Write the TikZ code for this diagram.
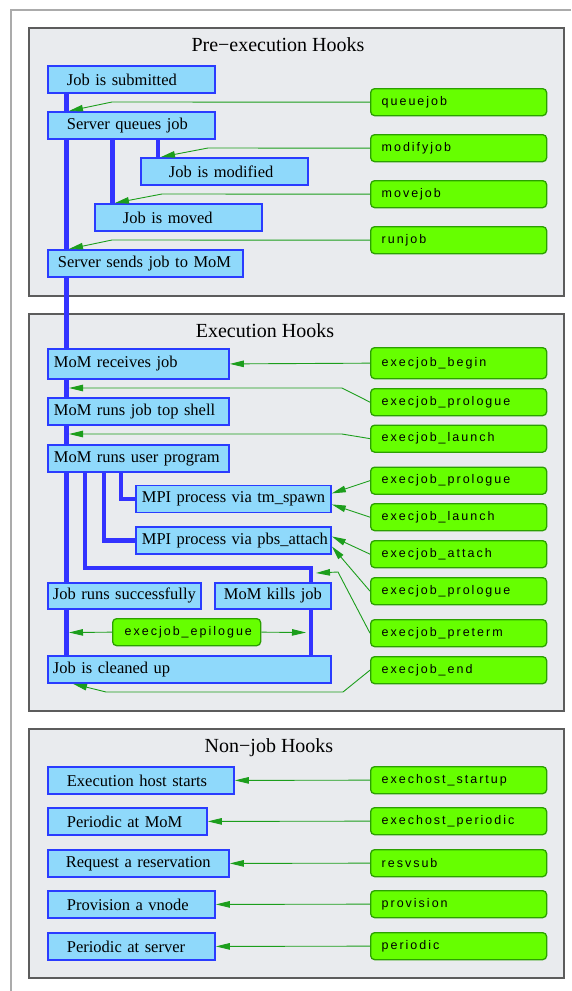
\documentclass[tikz,border=0pt]{standalone}
\usepackage{fontspec}
\setmainfont{Liberation Serif}
\newfontfamily\hookfont[LetterSpace=16]{Liberation Sans}
\usetikzlibrary{arrows.meta,calc}

\definecolor{panelfill}{HTML}{E9EBEE}
\definecolor{panelline}{HTML}{5C5C5C}
\definecolor{framegray}{HTML}{ABABAB}
\definecolor{jobfill}{HTML}{8FD9FB}
\definecolor{jobline}{HTML}{2A3CFF}
\definecolor{flowblue}{HTML}{3333FF}
\definecolor{hookfill}{HTML}{66FF00}
\definecolor{hookline}{HTML}{2BA000}
\definecolor{arrowgreen}{HTML}{1C9E1C}

\tikzset{
  panel/.style={draw=panelline, fill=panelfill, line width=1.2pt},
  paneltitle/.style={anchor=base, inner sep=0pt, font=\fontsize{20}{24}\selectfont},
  % one-line label, left aligned at a fixed inset inside a box of fixed width
  oneline/.style={align=left, execute at begin node={\hbox\bgroup}, execute at end node={\egroup}},
  jobbox/.style 2 args={draw=jobline, fill=jobfill, line width=1.8pt, anchor=north west,
    minimum height=27pt, inner ysep=0pt, inner xsep=#2, text width=#1, oneline,
    font=\fontsize{16.5}{18}\selectfont},
  hookbox/.style={draw=hookline, fill=hookfill, line width=1.3pt, rounded corners=4pt,
    anchor=north west, minimum height=27pt, inner ysep=0pt, inner xsep=11pt,
    text width=154pt, oneline, font=\hookfont\fontsize{12.5}{14}\selectfont},
  flow/.style={draw=flowblue, line width=4.5pt},
  hookarrow/.style={draw=arrowgreen, line width=0.9pt, -{Triangle[length=14pt,width=6.5pt]}},
}

\begin{document}
\begin{tikzpicture}[x=1pt, y=-1pt]
\useasboundingbox (0,0) rectangle (571,991);
\fill[white] (0,0) rectangle (571,991);

% outer frame
\draw[framegray, line width=1.5pt] (11,991) -- (11,10) -- (571,10);

% section panels
\draw[panel] (29,28) rectangle (564,296);
\draw[panel] (29,314) rectangle (564,711);
\draw[panel] (29,729) rectangle (564,978);

\node[paneltitle] (pretitle) at (278,51.5) {Pre−execution Hooks};
\node[paneltitle] (exectitle) at (265,337.5) {Execution Hooks};
\node[paneltitle] (nonjobtitle) at (269,752.5) {Non−job Hooks};

% pre-execution stages
\node[jobbox={129pt}{19pt}] (submitted) at (47,65) {Job is submitted};
\node[jobbox={129pt}{19pt}] (queued) at (47,111) {Server queues job};
\node[jobbox={111pt}{28pt}] (modified) at (140,157) {Job is modified};
\node[jobbox={111pt}{28pt}] (moved) at (94,203) {Job is moved};
\node[jobbox={175pt}{10pt}] (sent) at (47,249) {Server sends job to MoM};

\node[hookbox] (queuejob) at (370,88) {queuejob};
\node[hookbox] (modifyjob) at (370,134) {modifyjob};
\node[hookbox] (movejob) at (370,180) {movejob};
\node[hookbox] (runjob) at (370,226) {runjob};

% execution stages
\node[jobbox={169pt}{6pt}, minimum height=30pt] (received) at (47,348) {MoM receives job};
\node[jobbox={169pt}{6pt}] (topshell) at (47,397) {MoM runs job top shell};
\node[jobbox={169pt}{6pt}] (userprog) at (47,444) {MoM runs user program};
\node[jobbox={183pt}{6pt}] (spawn) at (135,484.5) {MPI process via tm\_spawn};
\node[jobbox={183pt}{6pt}] (attach) at (135,526) {MPI process via pbs\_attach};
\node[jobbox={143pt}{5pt}, minimum height=26pt] (success) at (47,582) {Job runs successfully};
\node[jobbox={98pt}{9pt}, minimum height=26pt] (killed) at (214,582) {MoM kills job};
\node[jobbox={273pt}{5pt}] (cleaned) at (47,655) {Job is cleaned up};

\node[hookbox, minimum height=31pt] (ebegin) at (370,347) {execjob\_begin};
\node[hookbox] (eprolog1) at (370,388) {execjob\_prologue};
\node[hookbox] (elaunch1) at (370,424.5) {execjob\_launch};
\node[hookbox] (eprolog2) at (370,466.5) {execjob\_prologue};
\node[hookbox] (elaunch2) at (370,503) {execjob\_launch};
\node[hookbox] (eattach) at (370,540) {execjob\_attach};
\node[hookbox] (eprolog3) at (370,577) {execjob\_prologue};
\node[hookbox] (epreterm) at (370,619) {execjob\_preterm};
\node[hookbox] (eend) at (370,656) {execjob\_end};
\node[hookbox, inner xsep=12pt, text width=124pt] (epilogue) at (112,618) {execjob\_epilogue};

% non-job events
\node[jobbox={148pt}{19pt}] (hoststart) at (47,766) {Execution host starts};
\node[jobbox={121pt}{19pt}] (momperiodic) at (47,807) {Periodic at MoM};
\node[jobbox={145pt}{18pt}] (resvreq) at (47,849) {Request a reservation};
\node[jobbox={129pt}{19pt}] (provnode) at (47,890) {Provision a vnode};
\node[jobbox={129pt}{19pt}] (srvperiodic) at (47,932) {Periodic at server};

\node[hookbox] (hoststartup) at (370,766) {exechost\_startup};
\node[hookbox] (hostperiodic) at (370,807) {exechost\_periodic};
\node[hookbox] (resvsub) at (370,849) {resvsub};
\node[hookbox] (provision) at (370,890) {provision};
\node[hookbox] (periodic) at (370,932) {periodic};

% job flow columns
\coordinate (spine) at (66.5,0);
\coordinate (movecol) at (112.5,0);
\coordinate (modcol) at (158,0);
\coordinate (killcol) at (85,0);
\coordinate (attcol) at (104,0);
\coordinate (spcol) at (121,0);
\coordinate (killturn) at (311,568);

\draw[flow] (submitted.south -| spine) -- (queued.north -| spine);
\draw[flow] (queued.south -| spine) -- (sent.north -| spine);
\draw[flow] (queued.south -| movecol) -- (moved.north -| movecol);
\draw[flow] (queued.south -| modcol) -- (modified.north -| modcol);
\draw[flow] (sent.south -| spine) -- (received.north -| spine);
\draw[flow] (received.south -| spine) -- (topshell.north -| spine);
\draw[flow] (topshell.south -| spine) -- (userprog.north -| spine);
\draw[flow] (userprog.south -| spine) -- (success.north -| spine);
\draw[flow] (success.south -| spine) -- (cleaned.north -| spine);
\draw[flow] (userprog.south -| spcol) |- (spawn.west);
\draw[flow] (userprog.south -| attcol) |- (attach.west);
\draw[flow] (userprog.south -| killcol) |- (killturn) -- (killed.north -| killturn);
\draw[flow] (killed.south -| killturn) -- (cleaned.north -| killturn);

% hook connectors
\draw[hookarrow] (queuejob.west) -- (112,102) -- ([xshift=22pt]queued.north west);
\draw[hookarrow] (modifyjob.west) -- (208,148) -- ([xshift=21pt]modified.north west);
\draw[hookarrow] (movejob.west) -- (162,194) -- ([xshift=21pt]moved.north west);
\draw[hookarrow] (runjob.west) -- (112,240) -- ([xshift=22pt]sent.north west);

\coordinate (prologtip) at (69,388);
\coordinate (launchtip) at (69,434);
\coordinate (pretermtip) at (316,573);
\coordinate (epileft) at (69,632.5);
\coordinate (epiright) at (306,632.5);

\draw[hookarrow] (ebegin.west) -- (received.east);
\draw[hookarrow] (eprolog1.west) -- (342,388) -- (prologtip);
\draw[hookarrow] (elaunch1.west) -- (342,434) -- (launchtip);
\draw[hookarrow] (eprolog2.west) -- ([yshift=5.5pt]spawn.east);
\draw[hookarrow] (elaunch2.west) -- ([yshift=-5.5pt]spawn.east);
\draw[hookarrow] (eattach.west) -- ([yshift=4pt]attach.east);
\draw[hookarrow] (eprolog3.west) -- ([yshift=-6pt]attach.east);
\draw[hookarrow] (epreterm.west) -- (338,572) -- (pretermtip);
\draw[hookarrow] (eend.west) -- (343,692) -- (106,692) -- ([xshift=26pt]cleaned.south west);
\draw[hookarrow] (epilogue.west) -- (epileft);
\draw[hookarrow] (epilogue.east) -- (epiright);

\draw[hookarrow] (hoststartup.west) -- (hoststart.east);
\draw[hookarrow] (hostperiodic.west) -- (momperiodic.east);
\draw[hookarrow] (resvsub.west) -- (resvreq.east);
\draw[hookarrow] (provision.west) -- (provnode.east);
\draw[hookarrow] (periodic.west) -- (srvperiodic.east);
\end{tikzpicture}
\end{document}
